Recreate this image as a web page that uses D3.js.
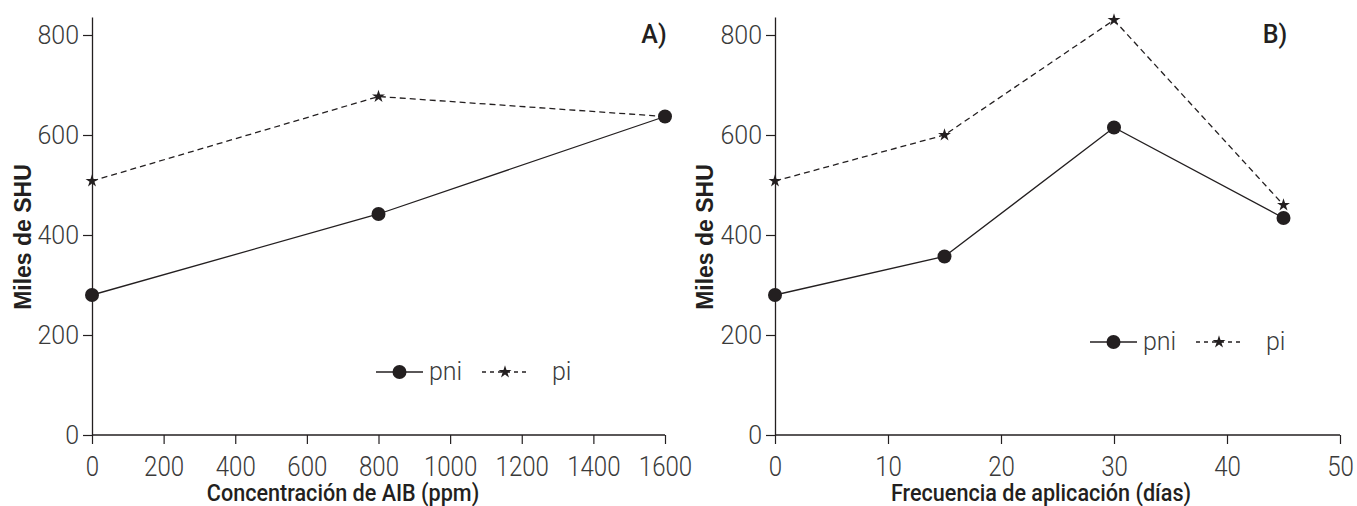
<!DOCTYPE html>
<html><head><meta charset="utf-8">
<script src="https://cdn.jsdelivr.net/npm/d3@7"></script>
<style>
body{margin:0;background:#fff;}
svg{display:block;}
</style></head>
<body>
<svg id="c" width="1357" height="506"></svg>
<script>
// ---- data ----
const concA = [0, 800, 1600];
const pniA = [280, 442, 637];
const piA = [508, 677, 637];
const freqB = [0, 15, 30, 45];
const pniB = [280, 357, 615, 434];
const piB = [508, 600, 830, 460];
const yTicks = [0, 200, 400, 600, 800];
const xTicksA = [0, 200, 400, 600, 800, 1000, 1200, 1400, 1600];
const xTicksB = [0, 10, 20, 30, 40, 50];
const seriesNames = ["pni", "pi"];

const INK = "#231f20", TXT = "#3a3a3a";
const svg = d3.select("#c");

function panel(o) {
  const g = svg.append("g");
  const x = d3.scaleLinear().domain(o.xDomain).range([o.left, o.right]);
  const y = d3.scaleLinear().domain([0, 836]).range([435, 17]);

  const ya = g.append("g").attr("transform", `translate(${o.left},0)`)
    .call(d3.axisLeft(y).tickValues(yTicks).tickSize(9).tickSizeOuter(0).tickPadding(4));
  ya.select(".domain").attr("stroke", INK).attr("stroke-width", 1.3);
  ya.selectAll(".tick line").attr("stroke", INK).attr("stroke-width", 1.2);
  ya.selectAll(".tick text").attr("fill", TXT).style("font-family", "Roboto").style("font-weight", 300).style("font-size", "25px");

  const xa = g.append("g").attr("transform", `translate(0,435)`)
    .call(d3.axisBottom(x).tickValues(o.xTicks).tickSize(9).tickSizeOuter(0).tickPadding(0).tickFormat(d3.format("d")));
  xa.select(".domain").attr("stroke", INK).attr("stroke-width", 1.3);
  xa.selectAll(".tick line").attr("stroke", INK).attr("stroke-width", 1.2);
  xa.selectAll(".tick text").attr("fill", TXT).attr("dy", 0).attr("y", 0)
    .attr("transform", "translate(0,41) scale(0.86,1)")
    .style("font-family", "Roboto").style("font-weight", 300).style("font-size", "28px");
  xa.selectAll(".domain").attr("d", `M${o.left},0H${o.right}`);

  // y title
  g.append("text").attr("transform", `translate(${o.yTitleX},237) rotate(-90)`)
    .attr("text-anchor", "middle").attr("fill", INK)
    .style("font-family", "Liberation Sans, Arial").style("font-weight", 700).style("font-size", "23px")
    .text("Miles de SHU");
  // x title
  g.append("text").attr("transform", `translate(${o.xTitleX},501) scale(0.9,1)`)
    .attr("text-anchor", "middle").attr("fill", INK)
    .style("font-family", "Roboto").style("font-weight", 500).style("font-size", "24px")
    .text(o.xTitle);
  // panel label
  g.append("text").attr("x", o.labelX).attr("y", 43).attr("text-anchor", "middle").attr("fill", INK)
    .style("font-family", "Roboto").style("font-weight", 500).style("font-size", "25px").text(o.label);

  const line = d3.line().x((d, i) => x(o.xs[i])).y(d => y(d));
  g.append("path").attr("d", line(o.pi)).attr("fill", "none").attr("stroke", INK)
    .attr("stroke-width", 1.3).attr("stroke-dasharray", "6,4");
  g.append("path").attr("d", line(o.pni)).attr("fill", "none").attr("stroke", INK)
    .attr("stroke-width", 1.3);
  const star = d3.symbol().type(d3.symbolStar).size(52);
  g.selectAll(".st").data(o.pi).join("path").attr("d", star)
    .attr("transform", (d, i) => `translate(${x(o.xs[i])},${y(d)})`).attr("fill", INK);
  g.selectAll(".ci").data(o.pni).join("circle")
    .attr("cx", (d, i) => x(o.xs[i])).attr("cy", d => y(d)).attr("r", 7).attr("fill", INK);

  // legend
  const L = g.append("g").attr("transform", `translate(${o.legX},${o.legY})`);
  L.append("line").attr("x1", 0).attr("x2", 47).attr("stroke", INK).attr("stroke-width", 1.3);
  L.append("circle").attr("cx", 23.5).attr("r", 7).attr("fill", INK);
  L.append("text").attr("x", 53).attr("y", 8).attr("fill", TXT)
    .style("font-family", "Roboto").style("font-weight", 300).style("font-size", "25px").text(seriesNames[0]);
  L.append("line").attr("x1", 106).attr("x2", 154).attr("stroke", INK).attr("stroke-width", 1.3).attr("stroke-dasharray", "4,4");
  L.append("path").attr("d", star).attr("transform", "translate(129,0)").attr("fill", INK);
  L.append("text").attr("x", 176).attr("y", 8).attr("fill", TXT)
    .style("font-family", "Roboto").style("font-weight", 300).style("font-size", "25px").text(seriesNames[1]);
}

panel({left: 92, right: 665, xDomain: [0, 1600], xTicks: xTicksA, xs: concA, pni: pniA, pi: piA,
  yTitleX: 31, xTitleX: 343, xTitle: "Concentración de AIB (ppm)", label: "A)", labelX: 654, legX: 376, legY: 372});
panel({left: 775, right: 1340, xDomain: [0, 50], xTicks: xTicksB, xs: freqB, pni: pniB, pi: piB,
  yTitleX: 713, xTitleX: 1041, xTitle: "Frecuencia de aplicación (días)", label: "B)", labelX: 1275, legX: 1090, legY: 342});
</script>
</body></html>
